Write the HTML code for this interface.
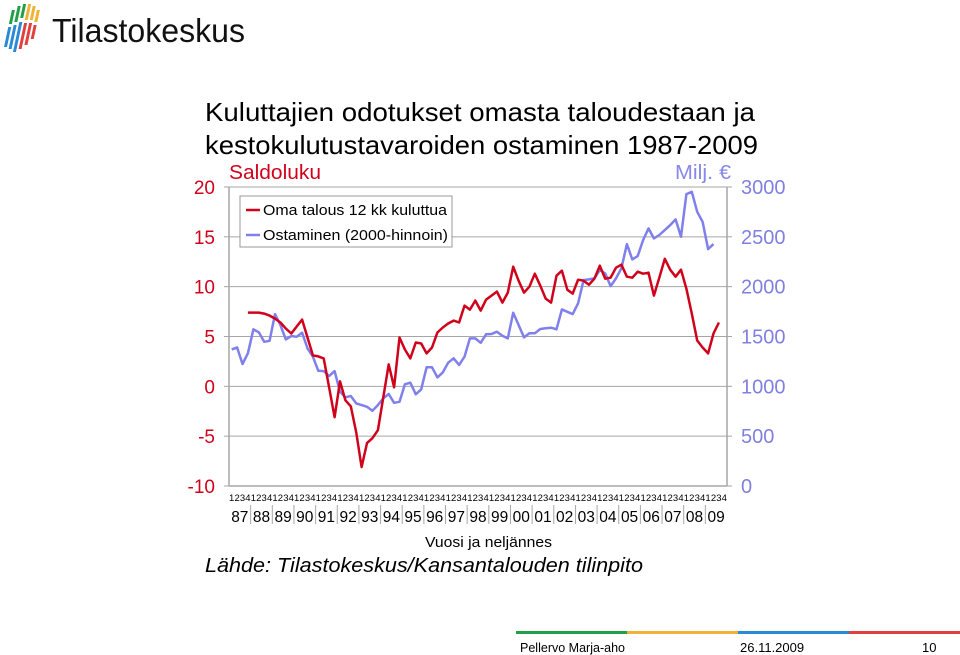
<!DOCTYPE html>
<html><head><meta charset="utf-8"><style>
html,body{margin:0;padding:0;background:#fff;}
body{width:960px;height:655px;overflow:hidden;position:relative;font-family:"Liberation Sans",sans-serif;}
svg{position:absolute;left:0;top:0;}
</style></head><body>
<svg width="960" height="655" viewBox="0 0 960 655">
  <g>
    <g transform="skewX(-12)">
      <rect x="14" y="10" width="3" height="14" fill="#21a04a"/>
      <rect x="19" y="6" width="3" height="16" fill="#21a04a"/>
      <rect x="24" y="4" width="3" height="14" fill="#21a04a"/>
      <rect x="29" y="4" width="3" height="16" fill="#f2b134"/>
      <rect x="34" y="6" width="3" height="14" fill="#f2b134"/>
      <rect x="39" y="10" width="3" height="12" fill="#f2b134"/>
      <rect x="14" y="27" width="3" height="20" fill="#2a8ad6"/>
      <rect x="19" y="25" width="3" height="24" fill="#2a8ad6"/>
      <rect x="24" y="22" width="3" height="30" fill="#2a8ad6"/>
      <rect x="29" y="23" width="3" height="26" fill="#e0413f"/>
      <rect x="34" y="23" width="3" height="22" fill="#e0413f"/>
      <rect x="39" y="25" width="3" height="14" fill="#e0413f"/>
    </g>
    <text x="52" y="42" font-size="33" fill="#111" textLength="193" lengthAdjust="spacingAndGlyphs">Tilastokeskus</text>
  </g>
  <text x="205" y="121" font-size="26" fill="#000" textLength="550" lengthAdjust="spacingAndGlyphs">Kuluttajien odotukset omasta taloudestaan ja</text>
  <text x="205" y="154" font-size="26" fill="#000" textLength="553" lengthAdjust="spacingAndGlyphs">kestokulutustavaroiden ostaminen 1987-2009</text>
  <text x="229" y="179" font-size="20" fill="#d0021b" textLength="92" lengthAdjust="spacingAndGlyphs">Saldoluku</text>
  <text x="675" y="179" font-size="20" fill="#8888e8" textLength="56" lengthAdjust="spacingAndGlyphs">Milj. €</text>
  <g id="grid"></g>
  <g id="axes"></g>
  <g id="series"></g>
  <g>
    <rect x="240" y="196" width="212" height="51" fill="#fff" stroke="#999" stroke-width="1"/>
    <g>
      <line x1="246" y1="210" x2="260" y2="210" stroke="#d0021b" stroke-width="2.5"/>
      <text x="263" y="215" font-size="15" fill="#000" textLength="184" lengthAdjust="spacingAndGlyphs">Oma talous 12 kk kuluttua</text>
    </g>
    <g>
      <line x1="246" y1="235" x2="260" y2="235" stroke="#8080ec" stroke-width="2.5"/>
      <text x="263" y="240" font-size="15" fill="#000" textLength="185" lengthAdjust="spacingAndGlyphs">Ostaminen (2000-hinnoin)</text>
    </g>
  </g>
  <text x="425" y="547" font-size="15" fill="#000" textLength="127" lengthAdjust="spacingAndGlyphs">Vuosi ja neljännes</text>
  <text x="205" y="572" font-size="20" font-style="italic" fill="#000" textLength="438" lengthAdjust="spacingAndGlyphs">Lähde: Tilastokeskus/Kansantalouden tilinpito</text>
  <g>
    <rect x="516" y="631" width="111" height="3" fill="#21a04a"/>
    <rect x="627" y="631" width="111" height="3" fill="#f2b134"/>
    <rect x="738" y="631" width="111" height="3" fill="#2a8ad6"/>
    <rect x="849" y="631" width="111" height="3" fill="#e0413f"/>
    <text x="520" y="652" font-size="13" fill="#000" textLength="105" lengthAdjust="spacingAndGlyphs">Pellervo Marja-aho</text>
    <text x="740" y="652" font-size="13" fill="#000">26.11.2009</text>
    <text x="922" y="652" font-size="13" fill="#000">10</text>
  </g>
</svg>
<script>
const years = ["87","88","89","90","91","92","93","94","95","96","97","98","99","00","01","02","03","04","05","06","07","08","09"];
const quarterLabels = ["1","2","3","4"];
const leftTicks = [20,15,10,5,0,-5,-10];
const rightTicks = [3000,2500,2000,1500,1000,500,0];
const redStart = 3;
const redValues = [7.4,7.4,7.4,7.3,7.1,6.8,6.4,5.8,5.3,6.0,6.7,4.9,3.1,3.0,2.8,-0.1,-3.1,0.5,-1.4,-2.0,-4.6,-8.1,-5.7,-5.2,-4.4,-1.1,2.2,-0.1,4.9,3.7,2.8,4.4,4.3,3.3,3.9,5.4,5.9,6.3,6.6,6.4,8.1,7.7,8.6,7.6,8.7,9.1,9.5,8.4,9.4,12.0,10.6,9.4,10.0,11.3,10.1,8.8,8.4,11.1,11.6,9.7,9.3,10.7,10.6,10.2,10.8,12.1,10.8,10.9,11.9,12.2,11.0,10.9,11.5,11.3,11.4,9.1,10.9,12.8,11.7,11.0,11.7,9.8,7.3,4.6,3.9,3.3,5.3,6.4];
const blueValues = [1371,1391,1224,1331,1572,1542,1447,1457,1725,1615,1471,1505,1497,1538,1381,1297,1156,1153,1103,1153,946,890,903,829,812,795,755,812,880,923,835,845,1020,1036,920,970,1191,1191,1090,1140,1237,1281,1214,1297,1481,1481,1437,1522,1525,1548,1508,1481,1738,1615,1491,1532,1532,1575,1582,1588,1572,1772,1748,1725,1833,2066,2073,2083,2166,2133,2006,2083,2184,2427,2274,2307,2467,2585,2484,2518,2568,2618,2675,2501,2929,2952,2751,2651,2377,2427];

const NS = "http://www.w3.org/2000/svg";
const X0 = 229, X1 = 727, YT = 187, YB = 486;
const nQ = years.length * 4;
const qw = (X1 - X0) / nQ;
const xq = i => X0 + (i + 0.5) * qw;
const yL = v => YB - (v - (-10)) / 30 * (YB - YT);
const yR = v => YB - v / 3000 * (YB - YT);
function mk(tag, attrs, parent){const e=document.createElementNS(NS,tag);for(const k in attrs)e.setAttribute(k,attrs[k]);parent.appendChild(e);return e;}
const grid = document.getElementById('grid'), axes = document.getElementById('axes'), series = document.getElementById('series');

leftTicks.forEach(t => {
  const y = yL(t);
  if (t > -10) {
    const g = mk('line',{x1:X0,y1:y,x2:X1,y2:y,stroke:'#a6a6a6','stroke-width':1},grid);
    
    
  }
  mk('line',{x1:X0-5,y1:y,x2:X0,y2:y,stroke:'#a6a6a6','stroke-width':1},axes);
  const tx = mk('text',{x:215,y:y+7,'font-size':19,fill:'#d0021b','text-anchor':'end'},axes);
  tx.textContent = t;
  
  
});
rightTicks.forEach(t => {
  const y = yR(t);
  mk('line',{x1:X1,y1:y,x2:X1+5,y2:y,stroke:'#a6a6a6','stroke-width':1},axes);
  const tx = mk('text',{x:741,y:y+7,'font-size':20,fill:'#8080e0'},axes);
  tx.textContent = t;
  
  
});
mk('line',{x1:X0,y1:YT,x2:X0,y2:YB,stroke:'#a6a6a6','stroke-width':1.5},axes);
mk('line',{x1:X1,y1:YT,x2:X1,y2:YB,stroke:'#a6a6a6','stroke-width':1.5},axes);
mk('line',{x1:X0,y1:YB,x2:X1,y2:YB,stroke:'#a6a6a6','stroke-width':1.5},axes);

years.forEach((yr, k) => {
  quarterLabels.forEach((q, j) => {
    const t = mk('text',{x:xq(k*4+j),y:501,'font-size':9.5,fill:'#000','text-anchor':'middle'},axes);
    t.textContent = q;
    
    
  });
  const t = mk('text',{x:X0 + (k+0.5)*4*qw, y:522,'font-size':15.5,fill:'#000','text-anchor':'middle'},axes);
  t.textContent = yr;
  
  
  if (k > 0) mk('line',{x1:X0+k*4*qw,y1:505,x2:X0+k*4*qw,y2:524,stroke:'#a6a6a6','stroke-width':1},axes);
});

const bluePts = blueValues.map((v,i)=>xq(i).toFixed(1)+','+yR(v).toFixed(1)).join(' ');
const bl = mk('polyline',{points:bluePts,fill:'none',stroke:'#8080ec','stroke-width':2.5,'stroke-linejoin':'round'},series);


const redPts = redValues.map((v,i)=>xq(i+redStart).toFixed(1)+','+yL(v).toFixed(1)).join(' ');
const rl = mk('polyline',{points:redPts,fill:'none',stroke:'#d0021b','stroke-width':2.5,'stroke-linejoin':'round'},series);


</script>
</body></html>
